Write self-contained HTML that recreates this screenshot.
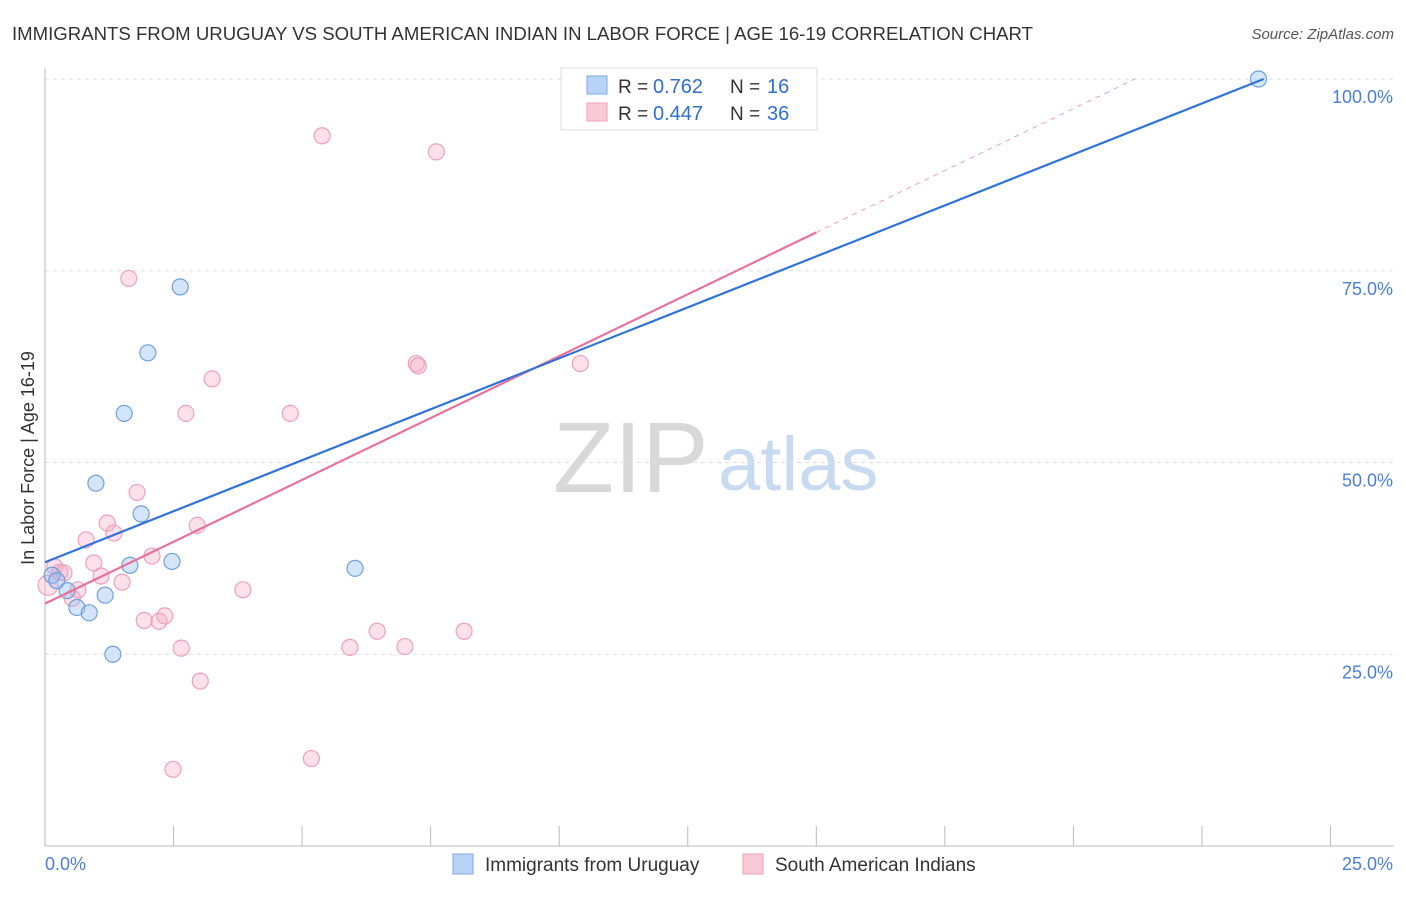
<!DOCTYPE html>
<html><head><meta charset="utf-8"><style>
body{margin:0;background:#fff;font-family:"Liberation Sans",sans-serif;}
svg text{font-family:"Liberation Sans",sans-serif;}
</style></head><body>
<svg id="chart" width="1406" height="892" xmlns="http://www.w3.org/2000/svg">
<text x="12" y="40" font-size="18" fill="#333" textLength="1021" lengthAdjust="spacingAndGlyphs">IMMIGRANTS FROM URUGUAY VS SOUTH AMERICAN INDIAN IN LABOR FORCE | AGE 16-19 CORRELATION CHART</text>
<text x="1394" y="39" font-size="15" fill="#555" font-style="italic" text-anchor="end">Source: ZipAtlas.com</text>
<text x="34" y="458" font-size="18" fill="#333" text-anchor="middle" transform="rotate(-90 34 458)">In Labor Force | Age 16-19</text>
<text x="553" y="492" font-size="100" fill="#d8d8d8" font-family="Liberation Serif">ZIP</text>
<text x="718" y="490" font-size="76" fill="#c8daf0">atlas</text>
<g id="grid"></g><g id="marks"></g>
<g>
<rect x="561" y="68" width="256" height="62" fill="#fff" stroke="#ddd"/>
<rect x="587" y="76" width="20" height="18" fill="#b8d3f5" stroke="#7fa9e0"/>
<text x="618" y="93" font-size="19" fill="#333">R =</text>
<text x="653" y="93" font-size="20" fill="#2f6fd0">0.762</text>
<text x="730" y="93" font-size="19" fill="#333">N =</text>
<text x="767" y="93" font-size="20" fill="#2f6fd0">16</text>
<rect x="587" y="103" width="20" height="18" fill="#f9c9d8" stroke="#ee9fb8"/>
<text x="618" y="120" font-size="19" fill="#333">R =</text>
<text x="653" y="120" font-size="20" fill="#2f6fd0">0.447</text>
<text x="730" y="120" font-size="19" fill="#333">N =</text>
<text x="767" y="120" font-size="20" fill="#2f6fd0">36</text>
</g>
<g>
<rect x="453" y="854" width="20" height="20" fill="#b8d3f5" stroke="#7fa9e0"/>
<text x="485" y="871" font-size="19" fill="#333">Immigrants from Uruguay</text>
<rect x="743" y="854" width="20" height="20" fill="#f9c9d8" stroke="#ee9fb8"/>
<text x="775" y="871" font-size="19" fill="#333">South American Indians</text>
</g>
</svg>
<script>
const xTicks=[0,2.5,5,7.5,10,12.5,15,17.5,20,22.5,25];
const yTicks=[25,50,75,100];
const yTickLabels=["25.0%","50.0%","75.0%","100.0%"];
const uruX=[0.14,0.23,0.43,0.62,0.86,0.99,1.17,1.32,1.54,1.65,1.87,2.0,2.47,2.63,6.03,23.6];
const uruY=[35.3,34.6,33.3,31.1,30.4,47.3,32.7,25.0,56.4,36.6,43.3,64.3,37.1,72.9,36.2,100];
const saiX=[0.06,0.19,0.29,0.37,0.53,0.64,0.8,0.95,1.09,1.21,1.34,1.5,1.63,1.79,1.93,2.08,2.22,2.33,2.65,2.74,2.96,3.02,3.25,3.85,4.77,5.18,5.39,5.93,6.46,7.0,7.22,7.26,7.61,8.15,10.41,2.49];
const saiY=[34.0,36.4,35.7,35.6,32.3,33.4,39.9,36.9,35.2,42.1,40.8,34.4,74.0,46.1,29.4,37.8,29.3,30.0,25.8,56.4,41.8,21.5,60.9,33.4,56.4,11.4,92.6,25.9,28.0,26.0,62.9,62.6,90.5,28.0,62.9,10.0];
const uruTrend=[37.0,100];const uruTrendX=[0,23.7];
const saiTrend=[31.6,80.0];const saiTrendX=[0,15];const saiDashX=[15,21.2];
const NS="http://www.w3.org/2000/svg";
const X=v=>45+v*51.42, Y=v=>846-v*7.67;
function el(t,a,p){const e=document.createElementNS(NS,t);for(const k in a)e.setAttribute(k,a[k]);p.appendChild(e);return e;}
const grid=document.getElementById('grid'),marks=document.getElementById('marks');
yTicks.forEach((v,i)=>{
 const l=el('line',{x1:45,x2:1394,y1:Y(v),y2:Y(v),stroke:'#ddd','stroke-dasharray':'4 4'},grid);
 
 
 const t=el('text',{x:1393,y:Y(v)+24,'font-size':18,fill:'#4a7fd6','text-anchor':'end'},grid);t.textContent=yTickLabels[i];
 
 
});
const ax=el('line',{x1:45,x2:45,y1:68,y2:846,stroke:'#bbb'},grid);


const bx=el('line',{x1:45,x2:1394,y1:846,y2:846,stroke:'#bbb'},grid);


xTicks.forEach(v=>{const l=el('line',{x1:X(v),x2:X(v),y1:826,y2:846,stroke:'#bbb'},grid);
 
 });
[[0,'0.0%','start',45],[25,'25.0%','end',1393]].forEach(a=>{const t=el('text',{x:a[3],y:870,'font-size':18,fill:'#4a7fd6','text-anchor':a[2]},grid);t.textContent=a[1];
 
 });
saiX.forEach((x,i)=>{const c=el('circle',{cx:X(x),cy:Y(saiY[i]),r:i==0?10:8,fill:'rgba(246,170,195,0.35)',stroke:'#eea0b8','stroke-width':1.2},marks);
 
 });
uruX.forEach((x,i)=>{const c=el('circle',{cx:X(x),cy:Y(uruY[i]),r:8,fill:'rgba(150,190,240,0.4)',stroke:'#6f9fdc','stroke-width':1.2},marks);
 
 });
const sl=(saiTrend[1]-saiTrend[0])/(saiTrendX[1]-saiTrendX[0]);
const d=el('line',{x1:X(saiDashX[0]),y1:Y(saiTrend[0]+sl*saiDashX[0]),x2:X(saiDashX[1]),y2:Y(saiTrend[0]+sl*saiDashX[1]),stroke:'#eaa0b8','stroke-dasharray':'5 5','stroke-width':1},marks);


const p=el('line',{x1:X(saiTrendX[0]),y1:Y(saiTrend[0]),x2:X(saiTrendX[1]),y2:Y(saiTrend[1]),stroke:'#e8709a','stroke-width':2.2},marks);


const b=el('line',{x1:X(uruTrendX[0]),y1:Y(uruTrend[0]),x2:X(uruTrendX[1]),y2:Y(uruTrend[1]),stroke:'#2f73d8','stroke-width':2.2},marks);


</script>
</body></html>
